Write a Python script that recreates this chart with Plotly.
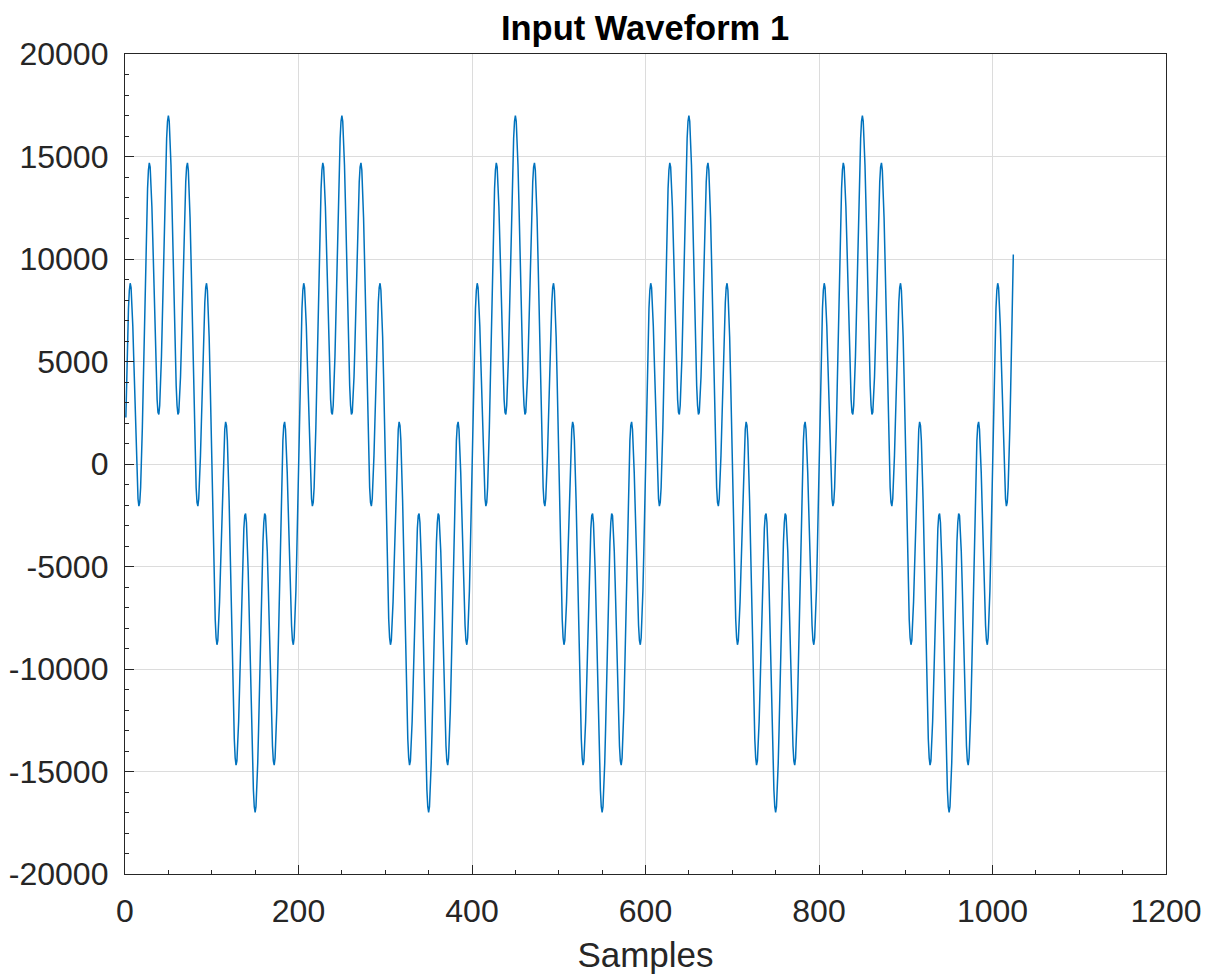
import numpy as np
import plotly.graph_objects as go

# Waveform: a slow sine (period 200 samples) plus a
# fast sine with 9 cycles per slow period; 1024 samples plotted from x=1.
n_samples = 1024
base_period = 200
component_cycles = [1, 9]          # cycles per base period
component_amplitudes = [10000, 7000]

x_ticks = [0, 200, 400, 600, 800, 1000, 1200]
x_tick_labels = ["0", "200", "400", "600", "800", "1000", "1200"]
y_ticks = [-20000, -15000, -10000, -5000, 0, 5000, 10000, 15000, 20000]
y_tick_labels = ["-20000", "-15000", "-10000", "-5000", "0", "5000", "10000", "15000", "20000"]

samples = np.arange(1, n_samples + 1)
values = sum(a * np.sin(2 * np.pi * c * samples / base_period)
             for a, c in zip(component_amplitudes, component_cycles))

font = "Liberation Sans, Arial, Helvetica, sans-serif"
axis_col = "#262626"
grid_col = "#dcdcdc"

W, H = 1207, 970  # page body has an 8px margin

fig = go.Figure(go.Scatter(x=samples, y=values, mode="lines",
                           line=dict(color="#0072BD", width=1.5),
                           showlegend=False, hoverinfo="x+y"))

common = dict(showline=True, linecolor=axis_col, linewidth=1.3, mirror=True,
              ticks="inside", ticklen=9, tickwidth=1.3, tickcolor=axis_col,
              showgrid=True, gridcolor=grid_col, gridwidth=1, zeroline=False,
              automargin=False,
              tickfont=dict(family=font, size=32, color=axis_col))

fig.update_xaxes(range=[0, 1200], tickvals=x_ticks, ticktext=x_tick_labels,
                 ticklabelstandoff=8,
                 minor=dict(dtick=50, ticks="inside", ticklen=4, tickcolor=axis_col, showgrid=False),
                 title=dict(text="Samples", font=dict(family=font, size=35, color=axis_col), standoff=14),
                 **common)
fig.update_yaxes(range=[-20000, 20000], tickvals=y_ticks, ticktext=y_tick_labels,
                 ticklabelstandoff=9,
                 minor=dict(dtick=1000, ticks="inside", ticklen=4, tickcolor=axis_col, showgrid=False),
                 **common)

fig.update_layout(
    width=W, height=H,
    margin=dict(l=117, r=49, t=46, b=104),
    plot_bgcolor="white", paper_bgcolor="white",
    title=dict(text="<b>Input Waveform 1</b>", x=637 / W, xanchor="center",
               xref="container", y=1 - 20 / H, yanchor="middle",
               font=dict(family=font, size=34.5, color="#000000")),
)

fig.write_html("out.html")
